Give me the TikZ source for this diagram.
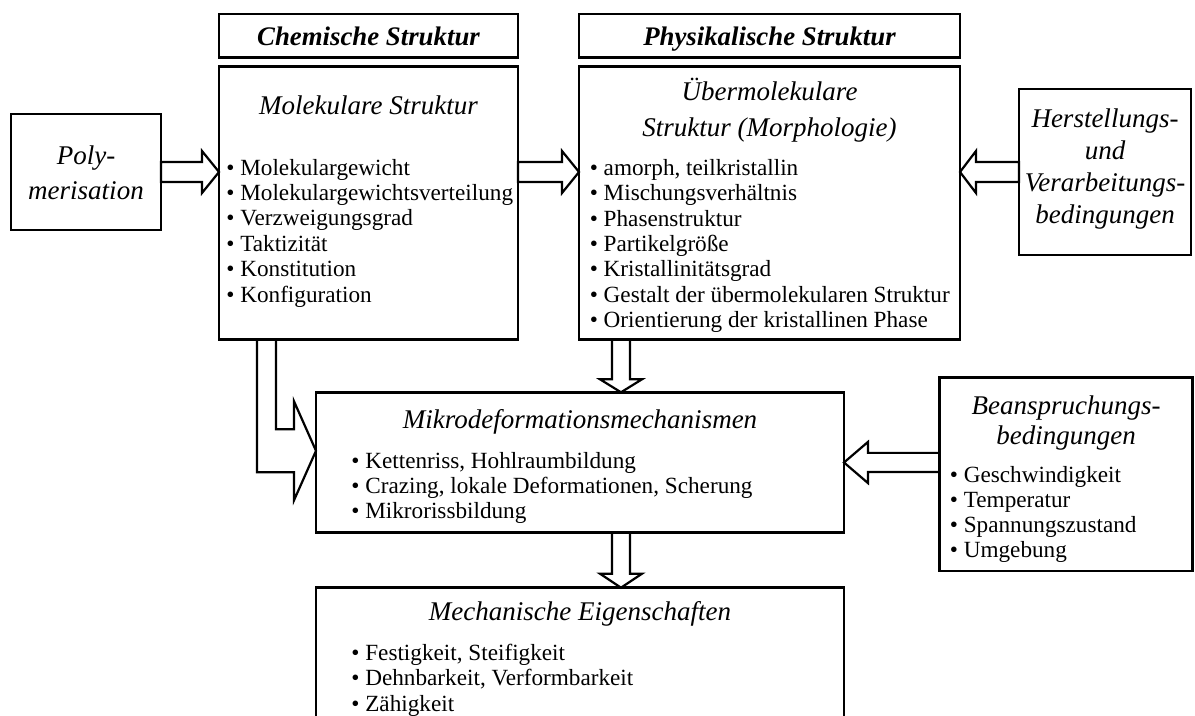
\documentclass[tikz,border=0pt]{standalone}
\usepackage{fontspec}
\setmainfont{Liberation Serif}
\usetikzlibrary{positioning,calc}

% block arrow: from, to, half shaft, half head, head length
\newcommand{\blockarrow}[5]{%
  \coordinate (ah) at ($(#2)!#5!(#1)$);
  \draw[arrowline] ($(#1)!#3!90:(#2)$) -- ($(ah)!#3!90:(#2)$) -- ($(ah)!#4!90:(#2)$) -- (#2)
    -- ($(ah)!#4!-90:(#2)$) -- ($(ah)!#3!-90:(#2)$) -- ($(#1)!#3!-90:(#2)$) -- cycle;
}

\begin{document}
\begin{tikzpicture}[x=1pt, y=-1pt,
                    box/.style={draw, line width=1.3pt, inner sep=0pt, outer sep=0pt},
                    headbox/.style={box, minimum height=21.6pt, font=\fontsize{13.4}{15}\selectfont\bfseries\itshape, text height=10pt, text depth=0pt},
                    ttl/.style={font=\fontsize{13.5}{15}\selectfont\itshape, inner sep=0pt, anchor=base},
                    item/.style={font=\fontsize{11.6}{12.5}\selectfont, inner sep=0pt, anchor=base west},
                    arrowline/.style={draw, line width=1.1pt},
                ]
                    \useasboundingbox (0,0) rectangle (597.5,358);

                    %Boxes
                    \node[box, minimum width=75pt, minimum height=57.9pt](poly) at (43,86) {};
                    \node[box, minimum width=149.5pt, minimum height=136.5pt](mol) at (184.25,101.65) {};
                    \node[headbox, minimum width=149.5pt](chem)[above=4.7pt of mol] {Chemische Struktur};
                    \node[box, minimum width=190.5pt, minimum height=136.5pt](ueber) at (384.75,101.65) {};
                    \node[headbox, minimum width=190.5pt](phys)[above=4.7pt of ueber] {Physikalische Struktur};
                    \node[box, minimum width=86pt, minimum height=83pt](herst) at (552.5,86) {};
                    \node[box, minimum width=264pt, minimum height=70.2pt](mikro) at (290,231.25) {};
                    \node[box, minimum width=264pt, minimum height=80pt](mech)[below=27.5pt of mikro] {};
                    \node[box, minimum width=126.5pt, minimum height=96.8pt](bean) at (533,237.1) {};

                    %Texts
                    \foreach \lbl [count=\i] in {Poly-, merisation}
                        \node[ttl](poly-\i) at ($(poly.north)+(0,{25.4+17.5*(\i-1)})$) {\lbl};
                    \node[ttl](mol-t) at ($(mol.north)+(0,24)$) {Molekulare Struktur};
                    \foreach \lbl [count=\i] in {Molekulargewicht, Molekulargewichtsverteilung, Verzweigungsgrad, Taktizität, Konstitution, Konfiguration}
                        \node[item](mol-\i) at ($(mol.north west)+(3.5,{54.2+12.7*(\i-1)})$) {\textbullet\ \lbl};
                    \foreach \lbl [count=\i] in {Übermolekulare, Struktur (Morphologie)}
                        \node[ttl](ueber-t\i) at ($(ueber.north)+(0,{16.8+18.1*(\i-1)})$) {\lbl};
                    \foreach \lbl [count=\i] in {{amorph, teilkristallin}, Mischungsverhältnis, Phasenstruktur, Partikelgröße, Kristallinitätsgrad, Gestalt der übermolekularen Struktur, Orientierung der kristallinen Phase}
                        \node[item](ueber-\i) at ($(ueber.north west)+(5.2,{54.3+12.7*(\i-1)})$) {\textbullet\ \lbl};
                    \foreach \lbl [count=\i] in {Herstellungs-, und, Verarbeitungs-, bedingungen}
                        \node[ttl](herst-\i) at ($(herst.north)+(0,{19.5+15.9*(\i-1)})$) {\lbl};
                    \node[ttl](mikro-t) at ($(mikro.north)+(0,18)$) {Mikrodeformationsmechanismen};
                    \foreach \lbl [count=\i] in {{Kettenriss, Hohlraumbildung}, {Crazing, lokale Deformationen, Scherung}, Mikrorissbildung}
                        \node[item](mikro-\i) at ($(mikro.north west)+(17.5,{38+12.5*(\i-1)})$) {\textbullet\ \lbl};
                    \foreach \lbl [count=\i] in {Beanspruchungs-, bedingungen}
                        \node[ttl](bean-t\i) at ($(bean.north)+(0,{18.8+15*(\i-1)})$) {\lbl};
                    \foreach \lbl [count=\i] in {Geschwindigkeit, Temperatur, Spannungszustand, Umgebung}
                        \node[item](bean-\i) at ($(bean.north west)+(5,{52.6+12.5*(\i-1)})$) {\textbullet\ \lbl};
                    \node[ttl](mech-t) at ($(mech.north)+(0,16.2)$) {Mechanische Eigenschaften};
                    \foreach \lbl [count=\i] in {{Festigkeit, Steifigkeit}, {Dehnbarkeit, Verformbarkeit}, Zähigkeit}
                        \node[item](mech-\i) at ($(mech.north west)+(17.5,{36.2+12.8*(\i-1)})$) {\textbullet\ \lbl};

                    %Arrows
                    \coordinate (molin) at (mol.west |- poly.east);
                    \coordinate (molout) at (mol.east |- poly.east);
                    \coordinate (ueberin) at (ueber.west |- poly.east);
                    \coordinate (ueberright) at (ueber.east |- herst.west);
                    \coordinate (ud) at ($(ueber.south west)+(21,0)$);
                    \coordinate (mikroin) at (ud |- mikro.north);
                    \coordinate (mikroout) at (ud |- mikro.south);
                    \coordinate (mechin) at (ud |- mech.north);
                    \coordinate (beanout) at (bean.west |- mikro.east);
                    \blockarrow{poly.east}{molin}{5pt}{10.5pt}{8.5pt}
                    \blockarrow{molout}{ueberin}{5pt}{10.5pt}{8.5pt}
                    \blockarrow{herst.west}{ueberright}{5pt}{10.5pt}{8pt}
                    \blockarrow{ud}{mikroin}{4.5pt}{10.5pt}{6.5pt}
                    \blockarrow{mikroout}{mechin}{4.5pt}{10.5pt}{7pt}
                    \blockarrow{beanout}{mikro.east}{4.8pt}{10.3pt}{12pt}
                    \draw[arrowline] ($(mol.south west)+(19,0)$) -- ++(0,66.25) -- ++(18.5,0) -- ++(0,14)
                        -- ++(11,-24.75) -- ++(-11,-24.75) -- ++(0,14) -- ++(-9,0) -- ++(0,-44.75) -- cycle;
                \end{tikzpicture}
\end{document}
